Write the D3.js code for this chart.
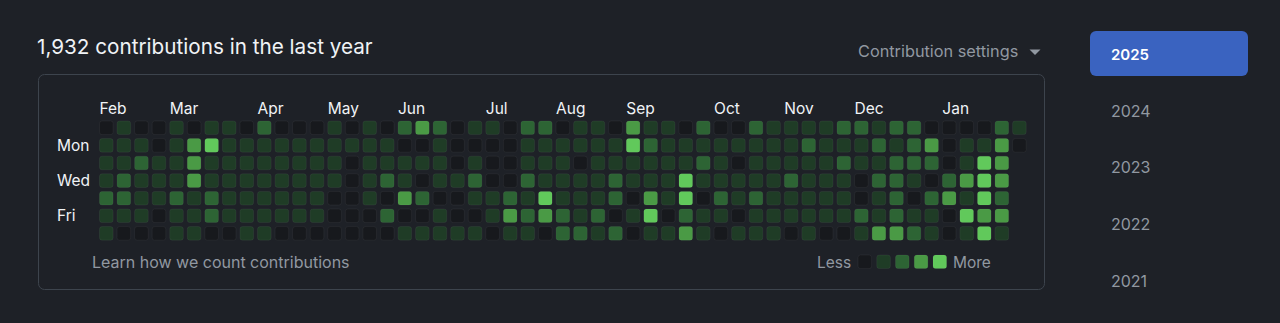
<!DOCTYPE html>
<html>
<head>
<meta charset="utf-8">
<script src="https://cdn.jsdelivr.net/npm/d3@7"></script>
<style>
  html, body { margin: 0; padding: 0; background: #1e2127; }
  svg { display: block; font-family: Inter, "Noto Sans", sans-serif; }
</style>
</head>
<body>
<div id="chart"></div>
<script>
// contribution levels per weekday row (0 = none ... 4 = most), one entry per week
const sun = [0,1,0,0,1,0,1,1,0,2,0,0, 0,1,0,1,0,2,3,2,0,1,1,0,2, 2,0,1,1,0,3,1,1,0,2,0,0,2,1, 1,1,1,2,2,1,2,2,0,0,0,0,2,1]
const mon = [1,1,1,0,1,3,4,1,1,1,1, 1,1,1,1,1,1,0,0,1,0,0,0,0,1, 1,1,1,1,1,4,2,1,1,1,1,1,1,1, 1,2,1,1,1,2,1,2,3,0,1,1,3,0]
const tue = [1,1,2,1,1,3,1,1,1,1,1, 1,1,1,0,1,1,1,1,1,0,1,0,0,1, 1,1,0,1,1,1,1,1,1,2,1,0,1,1, 1,1,1,2,1,1,2,2,2,0,1,4,3]
const wed = [1,2,1,1,1,3,1,1,1,1,1, 1,1,1,0,1,2,1,0,1,1,2,0,0,2, 1,1,1,1,2,1,1,1,4,1,1,1,1,1, 2,1,1,1,0,2,2,1,0,2,3,4,3]
const thu = [2,2,1,1,2,1,2,1,1,1,1, 1,1,0,0,1,0,3,2,0,0,1,1,2,1, 4,1,1,1,2,0,3,1,4,0,2,1,2,1, 1,1,1,1,0,1,2,0,2,3,1,4,2]
const fri = [1,1,1,0,1,1,2,1,1,1,1, 1,1,0,0,0,2,0,0,1,0,0,1,3,2, 3,2,1,2,0,1,4,0,2,1,1,0,1,1, 1,1,1,1,2,1,2,1,1,0,4,3,3]
const sat = [1,0,0,0,1,1,0,0,1,1,0, 0,0,0,0,0,0,1,1,1,1,1,0,1,1, 0,2,2,1,2,0,1,1,3,1,0,1,1,1, 0,1,0,0,1,3,3,2,1,0,1,4,1]

const monthNames = ["Feb","Mar","Apr","May","Jun","Jul","Aug","Sep","Oct","Nov","Dec","Jan"]
const monthWeeks = [0, 4, 9, 13, 17, 22, 26, 30, 35, 39, 43, 48]   // week column where label starts
const dayNames = ["Mon", "Wed", "Fri"]
const dayRows = [1, 3, 5]
const years = ["2025", "2024", "2023", "2022", "2021"]
const levelColors = ["#17191d", "#1f3c26", "#2d6434", "#4a9a45", "#61c95b"]

const width = 1280, height = 323
const textColor = "#f0f3f6", mutedColor = "#9198a1"

const svg = d3.select("#chart").append("svg")
  .attr("width", width)
  .attr("height", height)

// title + settings
svg.append("text").attr("x", 37).attr("y", 54)
  .attr("fill", textColor).attr("font-size", 20.7)
  .text("1,932 contributions in the last year")

svg.append("text").attr("x", 858).attr("y", 57)
  .attr("fill", mutedColor).attr("font-size", 16.3)
  .text("Contribution settings")
svg.append("path").attr("d", "M1029.5,49.5 L1040.5,49.5 L1035,55 Z").attr("fill", mutedColor)

// box
svg.append("rect")
  .attr("x", 38.5).attr("y", 74.5).attr("width", 1006).attr("height", 215)
  .attr("rx", 6).attr("fill", "none").attr("stroke", "#3d444d")

// grid scales
const rows = [sun, mon, tue, wed, thu, fri, sat]
const cells = []
rows.forEach((r, day) => r.forEach((lv, week) => cells.push({ week, day, lv })))

const x = d3.scaleLinear().domain([0, 52]).range([99.5, 1012.6])
const y = d3.scaleLinear().domain([0, 6]).range([121, 226.6])
const cell = 13.6

svg.append("g").selectAll("rect")
  .data(cells)
  .join("rect")
  .attr("x", d => x(d.week))
  .attr("y", d => y(d.day))
  .attr("width", cell).attr("height", cell)
  .attr("rx", 2.5)
  .attr("fill", d => levelColors[d.lv])
  .attr("stroke", "rgba(255,255,255,0.05)")
  .attr("stroke-width", 1)

// month labels
svg.append("g").selectAll("text")
  .data(monthNames)
  .join("text")
  .attr("x", (d, i) => x(monthWeeks[i]))
  .attr("y", 113.5)
  .attr("fill", textColor).attr("font-size", 15.5)
  .text(d => d)

// day labels
svg.append("g").selectAll("text")
  .data(dayNames)
  .join("text")
  .attr("x", 57)
  .attr("y", (d, i) => y(dayRows[i]) + cell / 2)
  .attr("dy", "0.35em")
  .attr("fill", textColor).attr("font-size", 15.5)
  .text(d => d)

// footer
svg.append("text").attr("x", 92).attr("y", 268)
  .attr("fill", mutedColor).attr("font-size", 16)
  .text("Learn how we count contributions")

const lx = d3.scaleLinear().domain([0, 4]).range([858, 933])
svg.append("text").attr("x", 817).attr("y", 268)
  .attr("fill", mutedColor).attr("font-size", 15.5).text("Less")
svg.append("g").selectAll("rect")
  .data(levelColors)
  .join("rect")
  .attr("x", (d, i) => lx(i)).attr("y", 255)
  .attr("width", cell).attr("height", cell)
  .attr("rx", 2.5)
  .attr("fill", d => d)
  .attr("stroke", "rgba(255,255,255,0.05)")
svg.append("text").attr("x", 953).attr("y", 268)
  .attr("fill", mutedColor).attr("font-size", 15.5).text("More")

// year sidebar
const yy = d3.scaleLinear().domain([0, 4]).range([60, 286.7])
svg.append("rect")
  .attr("x", 1090).attr("y", 31).attr("width", 158).attr("height", 45)
  .attr("rx", 6).attr("fill", "#3a63c0")
svg.append("g").selectAll("text")
  .data(years)
  .join("text")
  .attr("x", 1111)
  .attr("y", (d, i) => yy(i))
  .attr("fill", (d, i) => i === 0 ? "#ffffff" : mutedColor)
  .attr("font-size", (d, i) => i === 0 ? 15 : 16)
  .attr("font-weight", (d, i) => i === 0 ? 600 : 400)
  .text(d => d)
</script>
</body>
</html>
